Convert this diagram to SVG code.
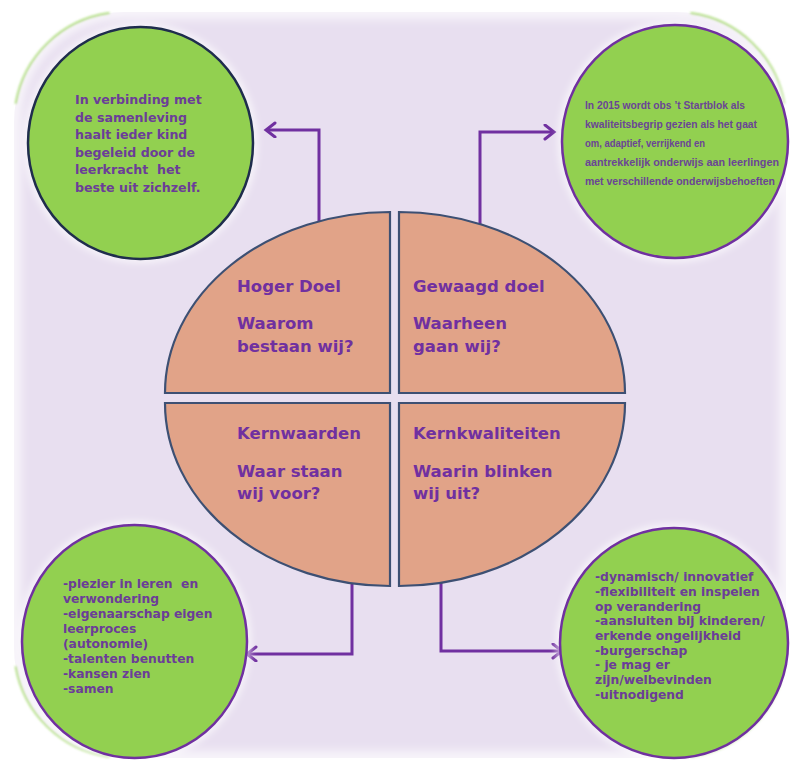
<svg xmlns="http://www.w3.org/2000/svg" width="791" height="764" viewBox="0 0 791 764">
  <defs>
    <filter id="soft" x="-10%" y="-10%" width="120%" height="120%">
      <feGaussianBlur stdDeviation="5"/>
    </filter>
    <filter id="halo" x="-20%" y="-20%" width="140%" height="140%">
      <feGaussianBlur stdDeviation="3"/>
    </filter>
    <filter id="thin" x="-20%" y="-20%" width="140%" height="140%">
      <feGaussianBlur stdDeviation="0.8"/>
    </filter>
    <marker id="arrow" markerUnits="userSpaceOnUse" markerWidth="16" markerHeight="18" refX="11" refY="8" orient="auto">
      <path d="M2,1 L11,8 L2,15" fill="none" stroke="#7030a0" stroke-width="3" stroke-linecap="round" stroke-linejoin="miter"/>
    </marker>
  </defs>
  <style>
    .frame { fill: #e8dff0; }
    .edge { fill: none; stroke: #ffffff; stroke-width: 14; stroke-opacity: 0.7; }
    .corner { fill: none; stroke: #92d050; stroke-width: 2; stroke-linecap: round; stroke-opacity: 0.7; }
    .glow { fill: none; stroke: #ffffff; stroke-width: 9; stroke-opacity: 0.6; }
    .bubble { fill: #92d050; stroke: #7030a0; stroke-width: 2.5; }
    .bubble.dark { stroke: #1f2d4d; }
    .quad { fill: #e1a388; stroke: #3d5073; stroke-width: 2.2; }
    .conn { fill: none; stroke: #7030a0; stroke-width: 3; marker-end: url(#arrow); }
    .qt { font-family: "DejaVu Sans", Verdana, sans-serif; font-weight: bold; font-size: 16.5px; fill: #7030a0; }
    .tl { font-family: "DejaVu Sans", Verdana, sans-serif; font-weight: bold; font-size: 12.6px; fill: #6b3d98; white-space: pre; }
    .bt { font-family: "DejaVu Sans", Verdana, sans-serif; font-weight: bold; font-size: 12.3px; fill: #6b3d98; white-space: pre; }
    .tr { font-family: "Liberation Sans", Arial, sans-serif; font-weight: bold; font-size: 10.8px; fill: #6a4596; }
  </style>

  <rect width="791" height="764" fill="#ffffff"/>

  <g id="frame">
    <rect class="frame" x="14" y="12" width="772" height="746" rx="110" ry="110"/>
    <rect class="edge" x="14" y="12" width="772" height="746" rx="110" ry="110" filter="url(#soft)"/>
    <g filter="url(#thin)">
      <path class="corner" d="M15.7,102.9 A110,110 0 0 1 108.7,13.1"/>
      <path class="corner" d="M691.3,13.1 A110,110 0 0 1 784.3,102.9"/>
      <path class="corner" d="M784.3,667.1 A110,110 0 0 1 691.3,756.9"/>
      <path class="corner" d="M108.7,756.9 A110,110 0 0 1 15.7,667.1"/>
    </g>
  </g>

  <g id="connectors">
    <path class="conn" d="M319,221 V130 H266"/>
    <path class="conn" d="M480,224 V132 H554"/>
    <path class="conn" d="M352,582 V654 H247"/>
    <path class="conn" d="M441,582 V651 H562"/>
  </g>

  <g id="hoger-doel">
    <path class="quad" d="M165,393 A225,181 0 0 1 390,212 V393 Z"/>
    <text class="qt" x="237" y="292">Hoger Doel</text>
    <text class="qt" x="237" y="329">Waarom</text>
    <text class="qt" x="237" y="352">bestaan wij?</text>
  </g>

  <g id="gewaagd-doel">
    <path class="quad" d="M399,212 A226,181 0 0 1 625,393 H399 Z"/>
    <text class="qt" x="413" y="292">Gewaagd doel</text>
    <text class="qt" x="413" y="329">Waarheen</text>
    <text class="qt" x="413" y="352">gaan wij?</text>
  </g>

  <g id="kernwaarden">
    <path class="quad" d="M165,403 H390 V586 A225,183 0 0 1 165,403 Z"/>
    <text class="qt" x="237" y="439">Kernwaarden</text>
    <text class="qt" x="237" y="477">Waar staan</text>
    <text class="qt" x="237" y="499">wij voor?</text>
  </g>

  <g id="kernkwaliteiten">
    <path class="quad" d="M399,403 H625 A226,183 0 0 1 399,586 Z"/>
    <text class="qt" x="413" y="439">Kernkwaliteiten</text>
    <text class="qt" x="413" y="477">Waarin blinken</text>
    <text class="qt" x="413" y="499">wij uit?</text>
  </g>

  <g id="hoger-doel-tekst">
    <ellipse class="glow" cx="140.5" cy="143" rx="113" ry="116" filter="url(#halo)"/>
    <ellipse class="bubble dark" cx="140.5" cy="143" rx="112.5" ry="116"/>
    <text class="tl" x="75" y="104">In verbinding met</text>
    <text class="tl" x="75" y="121.5">de samenleving</text>
    <text class="tl" x="75" y="139">haalt ieder kind</text>
    <text class="tl" x="75" y="156.5">begeleid door de</text>
    <text class="tl" x="75" y="174">leerkracht  het</text>
    <text class="tl" x="75" y="191.5">beste uit zichzelf.</text>
  </g>

  <g id="gewaagd-doel-tekst">
    <ellipse class="glow" cx="675" cy="141.5" rx="113" ry="116.5" filter="url(#halo)"/>
    <ellipse class="bubble" cx="675" cy="141.5" rx="113" ry="116.5"/>
    <text class="tr" x="585" y="109" textLength="160" lengthAdjust="spacingAndGlyphs">In 2015 wordt obs ’t Startblok als</text>
    <text class="tr" x="585" y="128" textLength="172" lengthAdjust="spacingAndGlyphs">kwaliteitsbegrip gezien als het gaat</text>
    <text class="tr" x="585" y="147" textLength="120" lengthAdjust="spacingAndGlyphs">om, adaptief, verrijkend en</text>
    <text class="tr" x="585" y="166" textLength="194" lengthAdjust="spacingAndGlyphs">aantrekkelijk onderwijs aan leerlingen</text>
    <text class="tr" x="585" y="185" textLength="190" lengthAdjust="spacingAndGlyphs">met verschillende onderwijsbehoeften</text>
  </g>

  <g id="kernwaarden-tekst">
    <ellipse class="glow" cx="134.5" cy="641.5" rx="112.5" ry="116.5" filter="url(#halo)"/>
    <ellipse class="bubble" cx="134.5" cy="641.5" rx="112.5" ry="116.5"/>
    <text class="bt" x="63" y="588">-plezier in leren  en</text>
    <text class="bt" x="63" y="603">verwondering</text>
    <text class="bt" x="63" y="618">-eigenaarschap eigen</text>
    <text class="bt" x="63" y="633">leerproces</text>
    <text class="bt" x="63" y="648">(autonomie)</text>
    <text class="bt" x="63" y="663">-talenten benutten</text>
    <text class="bt" x="63" y="678">-kansen zien</text>
    <text class="bt" x="63" y="693">-samen</text>
  </g>

  <g id="kernkwaliteiten-tekst">
    <ellipse class="glow" cx="674" cy="643" rx="114" ry="115" filter="url(#halo)"/>
    <ellipse class="bubble" cx="674" cy="643" rx="114" ry="115"/>
    <text class="bt" x="595" y="581">-dynamisch/ innovatief</text>
    <text class="bt" x="595" y="596">-flexibiliteit en inspelen</text>
    <text class="bt" x="595" y="610.5">op verandering</text>
    <text class="bt" x="595" y="625">-aansluiten bij kinderen/</text>
    <text class="bt" x="595" y="640">erkende ongelijkheid</text>
    <text class="bt" x="595" y="654.5">-burgerschap</text>
    <text class="bt" x="595" y="669">- je mag er</text>
    <text class="bt" x="595" y="684">zijn/welbevinden</text>
    <text class="bt" x="595" y="699">-uitnodigend</text>
  </g>
</svg>
